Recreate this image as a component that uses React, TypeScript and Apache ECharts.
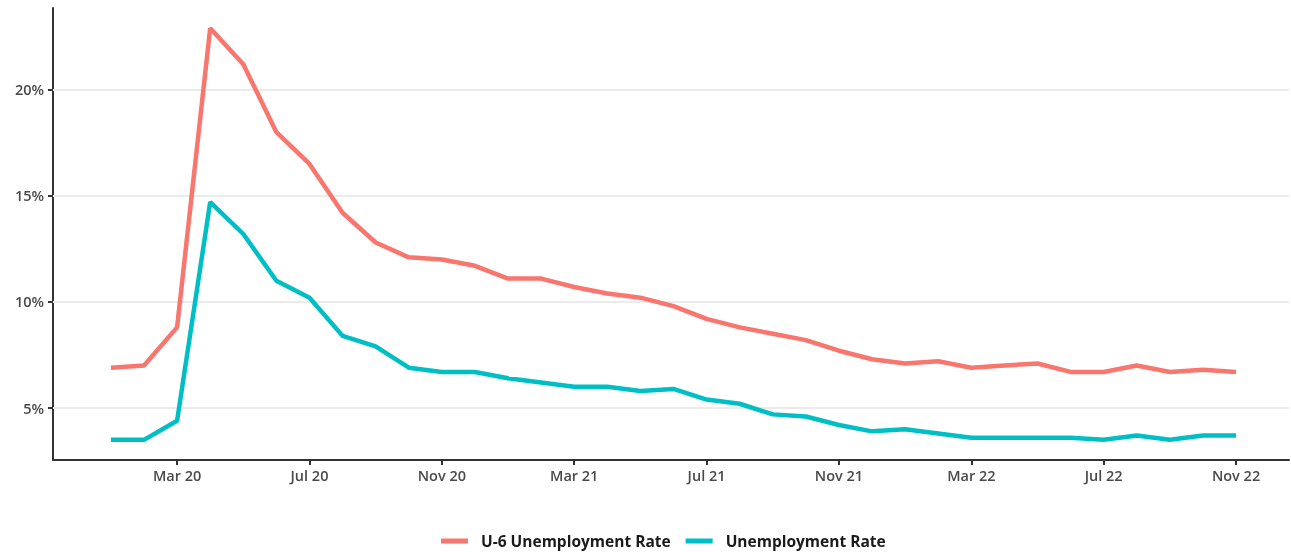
import React, { useEffect, useRef } from "react";
import * as echarts from "echarts";

const months = [
  "Jan 20","Feb 20","Mar 20","Apr 20","May 20","Jun 20","Jul 20","Aug 20","Sep 20","Oct 20","Nov 20","Dec 20",
  "Jan 21","Feb 21","Mar 21","Apr 21","May 21","Jun 21","Jul 21","Aug 21","Sep 21","Oct 21","Nov 21","Dec 21",
  "Jan 22","Feb 22","Mar 22","Apr 22","May 22","Jun 22","Jul 22","Aug 22","Sep 22","Oct 22","Nov 22",
];
const u6Rate = [
  6.9, 7.0, 8.8, 22.9, 21.2, 18.0, 16.5, 14.2, 12.8, 12.1, 12.0, 11.7,
  11.1, 11.1, 10.7, 10.4, 10.2, 9.8, 9.2, 8.8, 8.5, 8.2, 7.7, 7.3,
  7.1, 7.2, 6.9, 7.0, 7.1, 6.7, 6.7, 7.0, 6.7, 6.8, 6.7,
];
const unemploymentRate = [
  3.5, 3.5, 4.4, 14.7, 13.2, 11.0, 10.2, 8.4, 7.9, 6.9, 6.7, 6.7,
  6.4, 6.2, 6.0, 6.0, 5.8, 5.9, 5.4, 5.2, 4.7, 4.6, 4.2, 3.9,
  4.0, 3.8, 3.6, 3.6, 3.6, 3.6, 3.5, 3.7, 3.5, 3.7, 3.7,
];
const xTickLabels = ["Mar 20","Jul 20","Nov 20","Mar 21","Jul 21","Nov 21","Mar 22","Jul 22","Nov 22"];
const yTicks = [5, 10, 15, 20];

export default function App() {
  const ref = useRef<HTMLDivElement>(null);
  useEffect(() => {
    const chart = echarts.init(ref.current!, null, { renderer: "svg" });
    const xTickIdx = xTickLabels.map((l) => months.indexOf(l));
    const font = "'Open Sans', Lato, sans-serif";
    chart.setOption({
      animation: false,
      grid: { left: 53, right: 2, top: 8, bottom: 92 },
      legend: {
        top: 528,
        left: 436,
        itemWidth: 27,
        itemHeight: 5,
        itemGap: 15,
        icon: "rect",
        textStyle: { fontFamily: font, fontSize: 15.5, fontWeight: "bold", color: "#1a1a1a", padding: [0, 0, 0, 8] },
        data: ["U-6 Unemployment Rate", "Unemployment Rate"],
      },
      xAxis: {
        type: "value",
        min: -1.75,
        max: 35.6,
        axisLine: { show: true, onZero: false, lineStyle: { color: "#333", width: 2 } },
        axisTick: { show: true, customValues: xTickIdx, length: 5, lineStyle: { color: "#333", width: 2 } },
        axisLabel: {
          customValues: xTickIdx,
          formatter: (v: number) => months[Math.round(v)] ?? "",
          fontFamily: font,
          fontSize: 14.5,
          fontWeight: 600,
          color: "#4a4a4a",
          margin: 8,
        },
        splitLine: { show: false },
      },
      yAxis: {
        type: "value",
        min: 2.55,
        max: 23.85,
        axisLine: { show: true, onZero: false, lineStyle: { color: "#333", width: 2 } },
        axisTick: { show: true, customValues: yTicks, length: 5, lineStyle: { color: "#333", width: 2 } },
        axisLabel: {
          customValues: yTicks,
          formatter: (v: number) => v + "%",
          fontFamily: font,
          fontSize: 14.5,
          fontWeight: 600,
          color: "#4a4a4a",
          margin: 9,
        },
        splitLine: { show: false },
      },
      series: [
        {
          name: "U-6 Unemployment Rate",
          type: "line",
          data: u6Rate.map((v, i) => [i, v]),
          showSymbol: false,
          lineStyle: { color: "#F8766D", width: 4.5 },
          itemStyle: { color: "#F8766D" },
          z: 3,
          markLine: {
            silent: true,
            symbol: "none",
            label: { show: false },
            lineStyle: { color: "#ebebeb", width: 2, type: "solid" },
            data: yTicks.map((t) => ({ yAxis: t })),
            z: 1,
          },
        },
        {
          name: "Unemployment Rate",
          type: "line",
          data: unemploymentRate.map((v, i) => [i, v]),
          showSymbol: false,
          lineStyle: { color: "#00BFC4", width: 4.5 },
          itemStyle: { color: "#00BFC4" },
          z: 3,
        },
      ],
    });
    return () => chart.dispose();
  }, []);
  return <div ref={ref} style={{ position: "fixed", left: 0, top: 0, width: 1291, height: 552 }} />;
}
